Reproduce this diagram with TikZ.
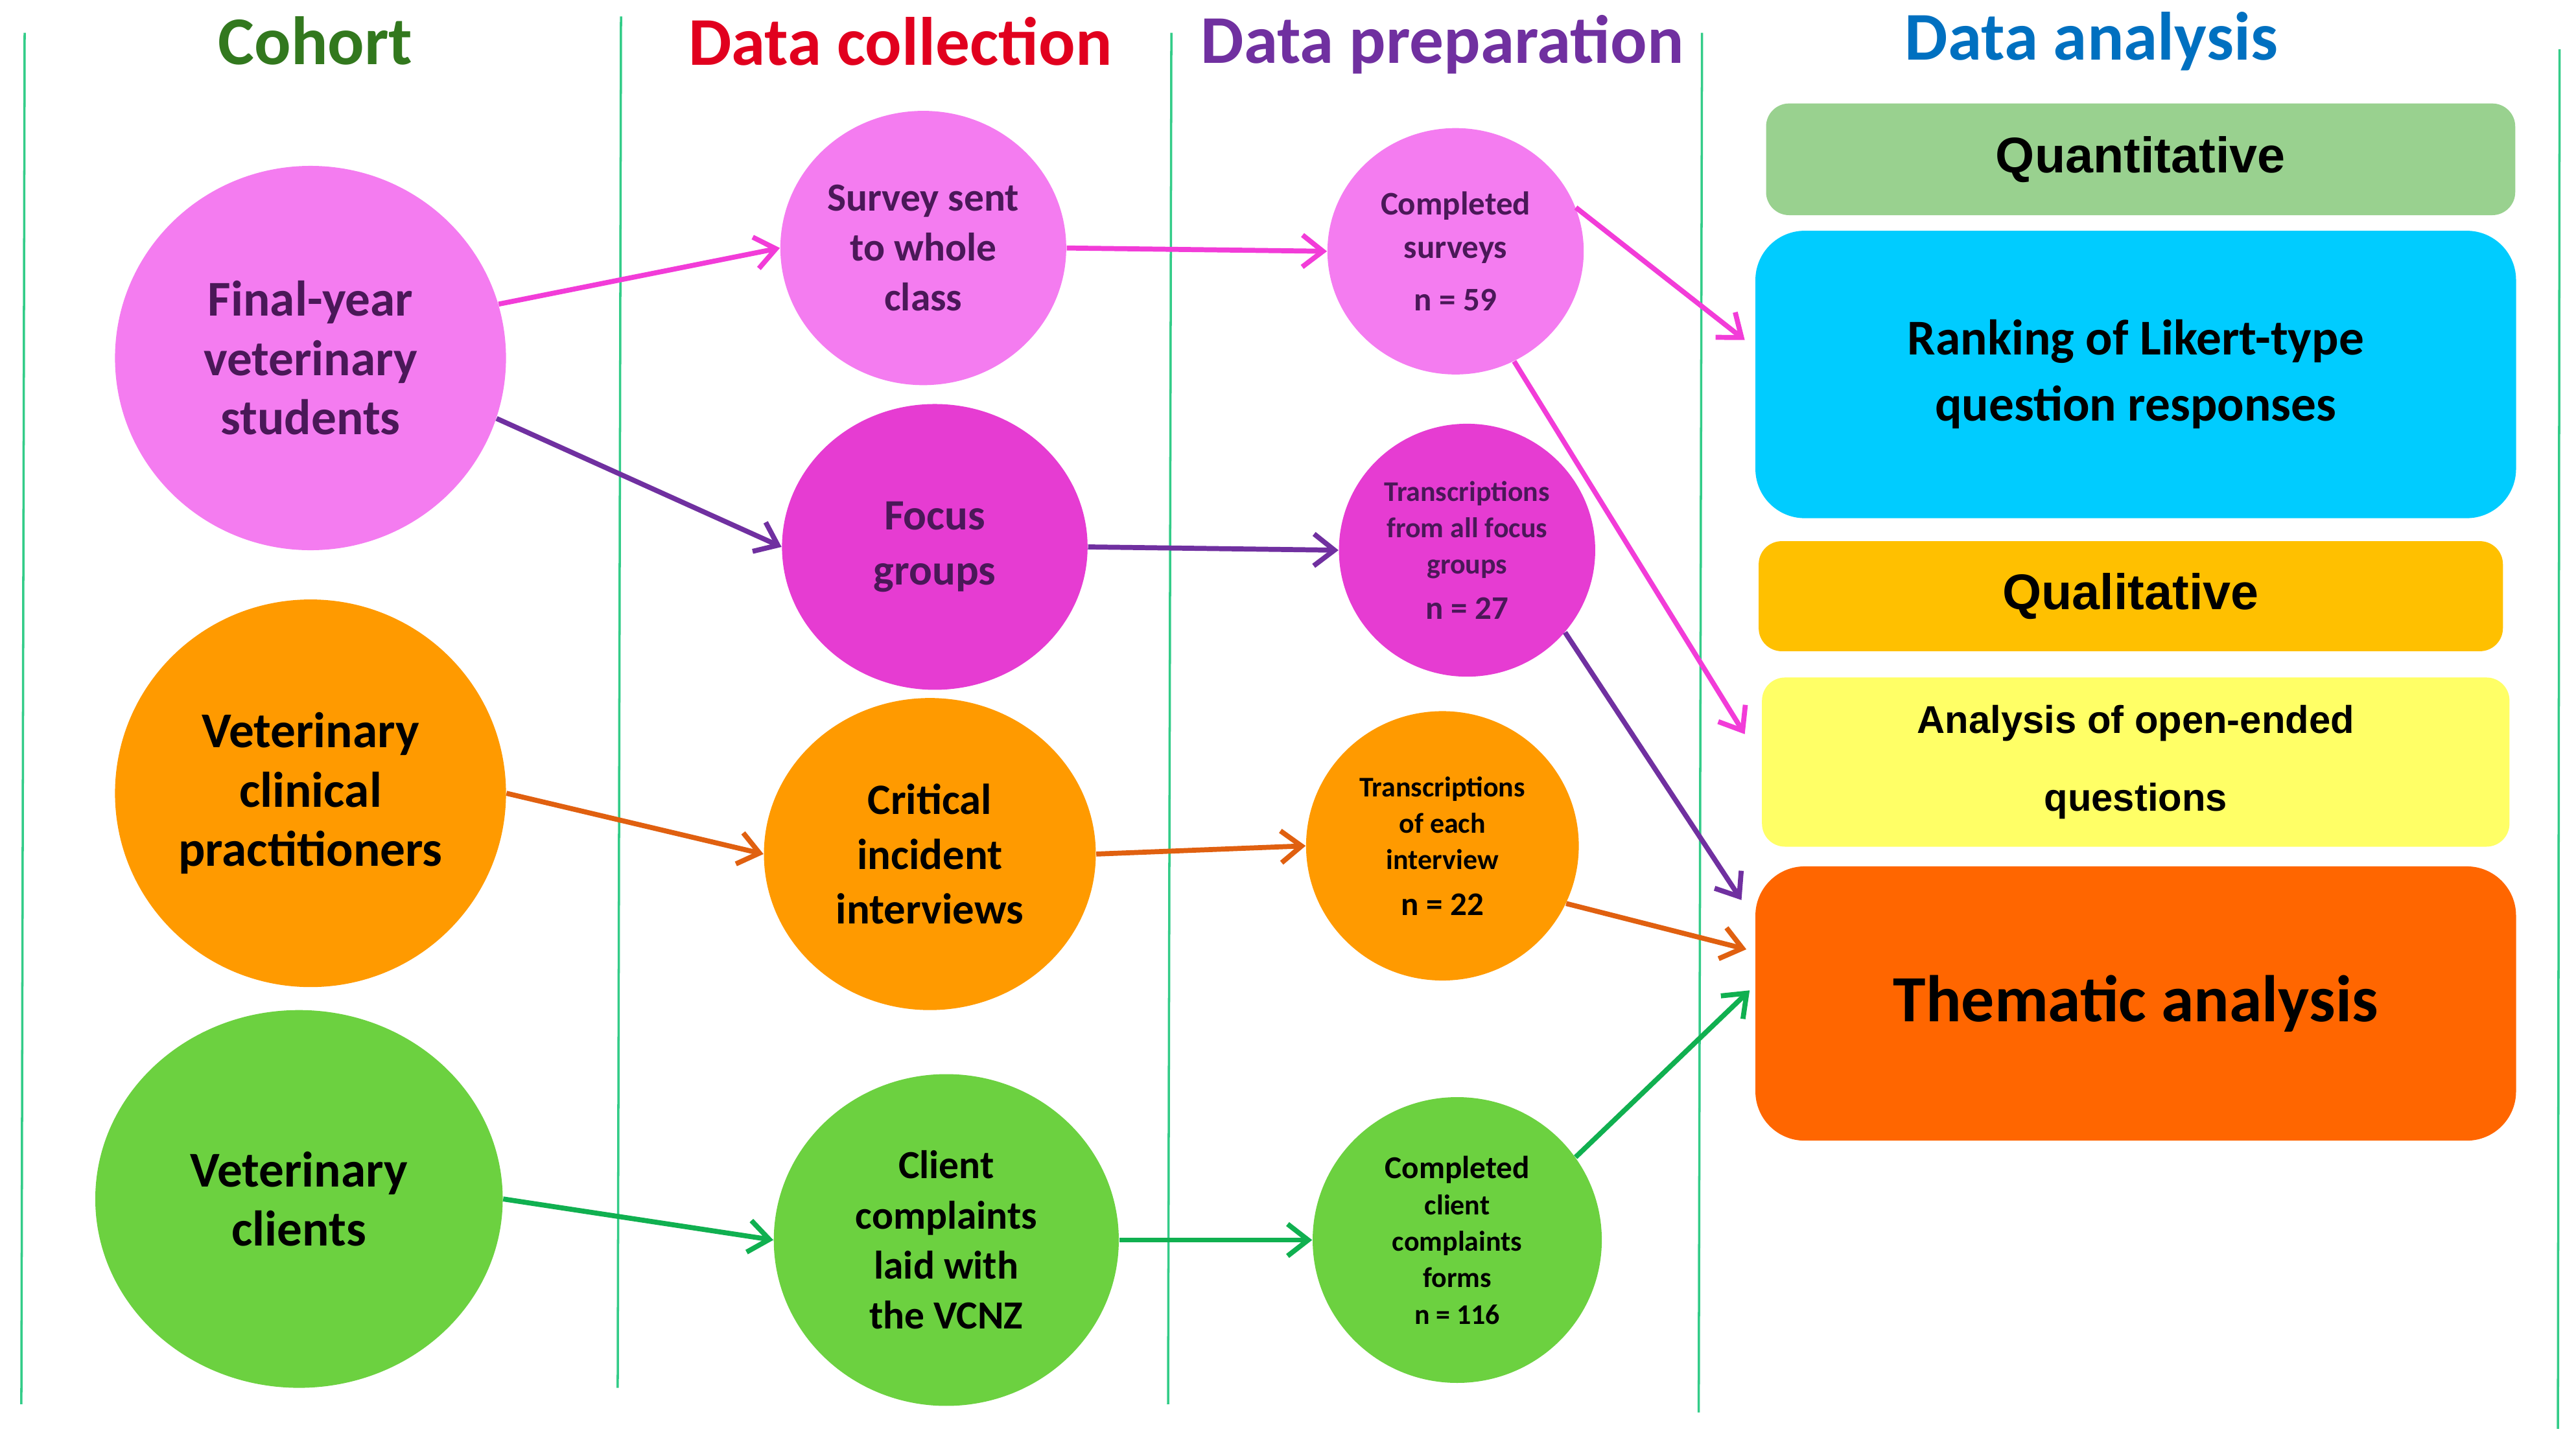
\documentclass[tikz,border=0pt]{standalone}
\usepackage{fontspec}
\setmainfont{Carlito}
\newfontfamily\arialf{Liberation Sans}
\usetikzlibrary{shapes.geometric,arrows.meta}
\newdimen\pxu \pxu=0.02534cm
\definecolor{vline}{HTML}{33CC88}
\definecolor{pinkc}{HTML}{F47CF0}
\definecolor{magc}{HTML}{E63CD2}
\definecolor{orc}{HTML}{FF9A00}
\definecolor{grc}{HTML}{6CD140}
\definecolor{dpur}{HTML}{4A1858}
\definecolor{apink}{HTML}{F23CD8}
\definecolor{apur}{HTML}{7030A0}
\definecolor{aor}{HTML}{E06010}
\definecolor{agr}{HTML}{10B050}
\begin{document}
\begin{tikzpicture}[x=0.02534cm,y=-0.02534cm,
  circ/.style={ellipse,draw=none,align=center,inner sep=0pt,font=\bfseries},
  big/.style={font=\fontsize{22}{26}\selectfont\bfseries},
  mid/.style={font=\fontsize{17.5}{22}\selectfont\bfseries},
  sml/.style={font=\fontsize{14.5}{19}\selectfont\bfseries},
  tiny/.style={font=\fontsize{12.5}{16}\selectfont\bfseries},
  hdr/.style={font=\fontsize{30}{34}\selectfont\bfseries},
  box/.style={rounded corners=14\pxu,draw=none,align=center,inner sep=0pt},
  arr/.style={line width=2.2pt,-{Straight Barb[length=9pt,width=14pt,line width=2.2pt]}},
  vl/.style={vline,line width=1pt}]
\useasboundingbox (0,0) rectangle (1568,882);
\draw[vl] (15,20) -- (13,855);
\draw[vl] (378,10) -- (376,845);
\draw[vl] (713,20) -- (711,855);
\draw[vl] (1036,20) -- (1034,860);
\draw[vl] (1558,30) -- (1557,870);
\node[hdr,text={rgb,255:red,50;green,120;blue,30}] (h1) at (192,25) {Cohort};
\node[hdr,text={rgb,255:red,225;green,0;blue,30}] (h2) at (548,25) {Data collection};
\node[hdr,text=apur] (h3) at (878,27) {Data preparation};
\node[hdr,text={rgb,255:red,0;green,112;blue,192}] (h4) at (1273,25) {Data analysis};
% cohort
\node[circ,big,fill=pinkc,text=dpur,minimum width=238\pxu,minimum height=234\pxu] (a1) at (189,218) {Final-year\\veterinary\\students};
\node[circ,big,fill=orc,minimum width=238\pxu,minimum height=236\pxu] (a2) at (189,483) {Veterinary\\clinical\\practitioners};
\node[circ,big,fill=grc,minimum width=248\pxu,minimum height=230\pxu] (a3) at (182,730) {Veterinary\\clients};
% collection
\node[circ,mid,fill=pinkc,text=dpur,minimum width=174\pxu,minimum height=167\pxu] (b1) at (562,151) {Survey sent\\to whole\\class};
\node[circ,font=\fontsize{19}{24}\selectfont\bfseries,fill=magc,text=dpur,minimum width=186\pxu,minimum height=174\pxu] (b2) at (569,333) {Focus\\groups};
\node[circ,font=\fontsize{19}{24}\selectfont\bfseries,fill=orc,minimum width=202\pxu,minimum height=190\pxu] (b3) at (566,520) {Critical\\incident\\interviews};
\node[circ,mid,fill=grc,minimum width=210\pxu,minimum height=202\pxu] (b4) at (576,755) {Client\\complaints\\laid with\\the VCNZ};
% preparation
\node[circ,sml,fill=pinkc,text=dpur,minimum width=156\pxu,minimum height=150\pxu] (c1) at (886,153) {Completed\\surveys\\[4pt]n = 59};
\node[circ,tiny,fill=magc,text=dpur,minimum width=156\pxu,minimum height=154\pxu] (c2) at (893,335) {Transcriptions\\from all focus\\groups\\[4pt]{\fontsize{14.5}{18}\selectfont n = 27}};
\node[circ,tiny,fill=orc,minimum width=166\pxu,minimum height=164\pxu] (c3) at (878,515) {Transcriptions\\of each\\interview\\[4pt]{\fontsize{14.5}{18}\selectfont n = 22}};
\node[circ,tiny,fill=grc,minimum width=176\pxu,minimum height=174\pxu] (c4) at (887,755) {\fontsize{14}{19}\selectfont Completed\\client\\complaints\\forms\\n = 116};
% analysis
\node[box,fill={rgb,255:red,153;green,209;blue,143},minimum width=456\pxu,minimum height=68\pxu,font=\arialf\fontsize{22}{26}\selectfont\bfseries] (quant) at (1303,97) {Quantitative};
\node[box,rounded corners=30\pxu,fill={rgb,255:red,0;green,204;blue,255},minimum width=463\pxu,minimum height=175\pxu,font=\fontsize{22}{29}\selectfont\bfseries] (rank) at (1300,228) {Ranking of Likert-type\\question responses};
\node[box,fill={rgb,255:red,255;green,192;blue,0},minimum width=453\pxu,minimum height=67\pxu,font=\arialf\fontsize{22}{26}\selectfont\bfseries] (qual) at (1297,363) {Qualitative};
\node[box,fill={rgb,255:red,255;green,255;blue,102},minimum width=455\pxu,minimum height=103\pxu,font=\arialf\fontsize{17}{34}\selectfont\bfseries] (anal) at (1300,464) {Analysis of open-ended\\questions};
\node[box,rounded corners=30\pxu,fill={rgb,255:red,255;green,102;blue,0},minimum width=463\pxu,minimum height=167\pxu,font=\fontsize{29}{34}\selectfont\bfseries] (them) at (1300,611) {Thematic analysis};
\coordinate (e1) at (1062,207);
\coordinate (e2) at (1062,447);
\coordinate (e3) at (1060,548);
\coordinate (e4) at (1063,578);
\coordinate (e5) at (1065,603);
% arrows
\draw[arr,apink] (a1.16) -- (b1.west);
\draw[arr,apur] (a1.-18) -- (b2.west);
\draw[arr,aor] (a2.east) -- (b3.west);
\draw[arr,agr] (a3.east) -- (b4.west);
\draw[arr,apink] (b1.east) -- (c1.west);
\draw[arr,apur] (b2.east) -- (c2.west);
\draw[arr,aor] (b3.east) -- (c3.west);
\draw[arr,agr] (b4.east) -- (c4.west);
\draw[arr,apink] (c1.20) -- (e1);
\draw[arr,apink] (c1.-62) -- (e2);
\draw[arr,apur] (c2.-40) -- (e3);
\draw[arr,aor] (c3.-25) -- (e4);
\draw[arr,agr] (c4.35) -- (e5);
\end{tikzpicture}
\end{document}
